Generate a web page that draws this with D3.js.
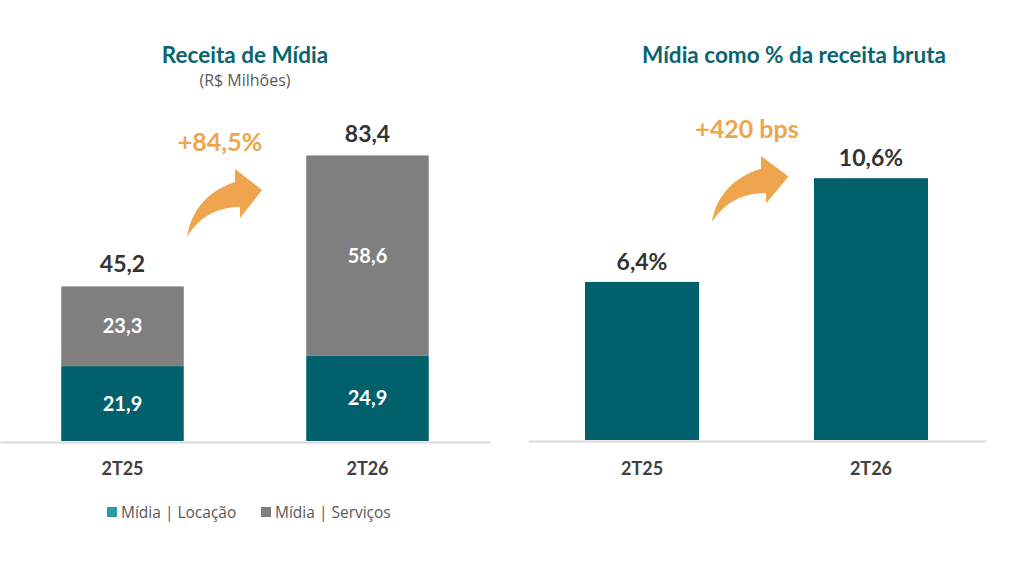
<!DOCTYPE html>
<html>
<head>
<meta charset="utf-8">
<script src="https://cdn.jsdelivr.net/npm/d3@7"></script>
<style>
  body { margin: 0; background: #fff; }
  svg text { font-family: Lato, "Open Sans", sans-serif; }
</style>
</head>
<body>
<div id="chart"></div>
<script>
// receita de mídia (R$ milhões)
var periods = ["2T25", "2T26"];
var locacao = [21.9, 24.9];
var servicos = [23.3, 58.6];
var totals = [45.2, 83.4];
var growthLabel = "+84,5%";

// mídia como % da receita bruta
var share = [6.4, 10.6];
var shareLabel = "+420 bps";

var legendNames = ["Mídia | Locação", "Mídia | Serviços"];

var teal = "#00606b", grey = "#7f7f7f", orange = "#eea54e";
var fmt = function(v) { return d3.format(".1f")(v).replace(".", ","); };

var svg = d3.select("#chart").append("svg")
  .attr("width", 1024)
  .attr("height", 562);

// orange curved arrow, drawn from its tail
var arrowPath = "M0,0 C4,-26 20,-46 48,-55 L48,-68 L75,-47 L53,-19 L53,-30 C30,-30 12,-20 0,0 Z";

// ---------- left chart ----------
var xL = d3.scaleBand().domain(periods).range([0, 490]).paddingInner(0.5).paddingOuter(0.25);
var yL = d3.scaleLinear().domain([0, 100]).range([441, 99]);

var left = svg.append("g");

left.selectAll("rect.loc").data(periods)
  .enter().append("rect")
  .attr("x", function(d) { return xL(d); })
  .attr("width", xL.bandwidth())
  .attr("y", function(d, i) { return yL(locacao[i]); })
  .attr("height", function(d, i) { return yL(0) - yL(locacao[i]); })
  .style("fill", teal);

left.selectAll("rect.serv").data(periods)
  .enter().append("rect")
  .attr("x", function(d) { return xL(d); })
  .attr("width", xL.bandwidth())
  .attr("y", function(d, i) { return yL(locacao[i] + servicos[i]); })
  .attr("height", function(d, i) { return yL(locacao[i]) - yL(locacao[i] + servicos[i]); })
  .style("fill", grey);

left.selectAll("text.loc").data(periods)
  .enter().append("text")
  .attr("x", function(d) { return xL(d) + xL.bandwidth() / 2; })
  .attr("y", function(d, i) { return (yL(0) + yL(locacao[i])) / 2 + 7; })
  .attr("text-anchor", "middle")
  .style("font-size", "20px").style("font-weight", "bold").style("fill", "#fff")
  .text(function(d, i) { return fmt(locacao[i]); });

left.selectAll("text.serv").data(periods)
  .enter().append("text")
  .attr("x", function(d) { return xL(d) + xL.bandwidth() / 2; })
  .attr("y", function(d, i) { return (yL(locacao[i]) + yL(totals[i])) / 2 + 7; })
  .attr("text-anchor", "middle")
  .style("font-size", "20px").style("font-weight", "bold").style("fill", "#fff")
  .text(function(d, i) { return fmt(servicos[i]); });

left.selectAll("text.tot").data(periods)
  .enter().append("text")
  .attr("x", function(d) { return xL(d) + xL.bandwidth() / 2; })
  .attr("y", function(d, i) { return yL(totals[i]) - 14; })
  .attr("text-anchor", "middle")
  .style("font-size", "23px").style("font-weight", "bold").style("fill", "#333")
  .text(function(d, i) { return fmt(totals[i]); });

var axL = left.append("g")
  .attr("transform", "translate(0,442)")
  .call(d3.axisBottom(xL).tickSize(0).tickPadding(20));

left.append("text")
  .attr("x", 245).attr("y", 63)
  .attr("text-anchor", "middle")
  .style("font-size", "22.5px").style("font-weight", "bold").style("fill", "#0a6470")
  .text("Receita de Mídia");
left.append("text")
  .attr("x", 245).attr("y", 86)
  .attr("text-anchor", "middle")
  .style("font-family", "'Open Sans', sans-serif")
  .style("font-size", "16px").style("fill", "#595959")
  .text("(R$ Milhões)");

left.append("text")
  .attr("x", 220).attr("y", 151)
  .attr("text-anchor", "middle")
  .style("font-size", "25px").style("font-weight", "bold").style("fill", orange)
  .text(growthLabel);
left.append("path")
  .attr("d", arrowPath)
  .attr("transform", "translate(187,237)")
  .style("fill", orange);

// legend
var legend = left.selectAll("g.leg").data(legendNames)
  .enter().append("g")
  .attr("transform", function(d, i) { return "translate(" + (107 + i * 154) + ",507)"; });
legend.append("rect")
  .attr("width", 10).attr("height", 10)
  .style("fill", function(d, i) { return i === 0 ? "#2a9ba6" : grey; });
legend.append("text")
  .attr("x", 14).attr("y", 11)
  .style("font-family", "'Open Sans', sans-serif")
  .style("font-size", "15.5px").style("fill", "#595959")
  .text(function(d) { return d; });

// ---------- right chart ----------
var xR = d3.scaleBand().domain(periods).range([528, 985]).paddingInner(0.502).paddingOuter(0.249);
var yR = d3.scaleLinear().domain([0, 12]).range([440, 143.6]);

var right = svg.append("g");

right.selectAll("rect").data(periods)
  .enter().append("rect")
  .attr("x", function(d) { return xR(d); })
  .attr("width", xR.bandwidth())
  .attr("y", function(d, i) { return yR(share[i]); })
  .attr("height", function(d, i) { return yR(0) - yR(share[i]); })
  .style("fill", teal);

right.selectAll("text.val").data(periods)
  .enter().append("text")
  .attr("x", function(d) { return xR(d) + xR.bandwidth() / 2; })
  .attr("y", function(d, i) { return yR(share[i]) - 12; })
  .attr("text-anchor", "middle")
  .style("font-size", "23px").style("font-weight", "bold").style("fill", "#333")
  .text(function(d, i) { return fmt(share[i]) + "%"; });

var axR = right.append("g")
  .attr("transform", "translate(0,441)")
  .call(d3.axisBottom(xR).tickSize(0).tickPadding(21));

right.append("text")
  .attr("x", 794).attr("y", 63)
  .attr("text-anchor", "middle")
  .style("font-size", "22.5px").style("font-weight", "bold").style("fill", "#0a6470")
  .text("Mídia como % da receita bruta");

right.append("text")
  .attr("x", 747).attr("y", 138)
  .attr("text-anchor", "middle")
  .style("font-size", "25px").style("font-weight", "bold").style("fill", orange)
  .text(shareLabel);
right.append("path")
  .attr("d", arrowPath)
  .attr("transform", "translate(712,222) scale(1.02,0.97)")
  .style("fill", orange);

// axis styling
[axL, axR].forEach(function(ax) {
  ax.select(".domain").style("stroke", "#d9d9d9").style("stroke-width", 2);
  ax.selectAll("text")
    .style("font-family", "Lato, 'Open Sans', sans-serif")
    .style("font-size", "18px").style("font-weight", "bold").style("fill", "#404040");
});
</script>
</body>
</html>
